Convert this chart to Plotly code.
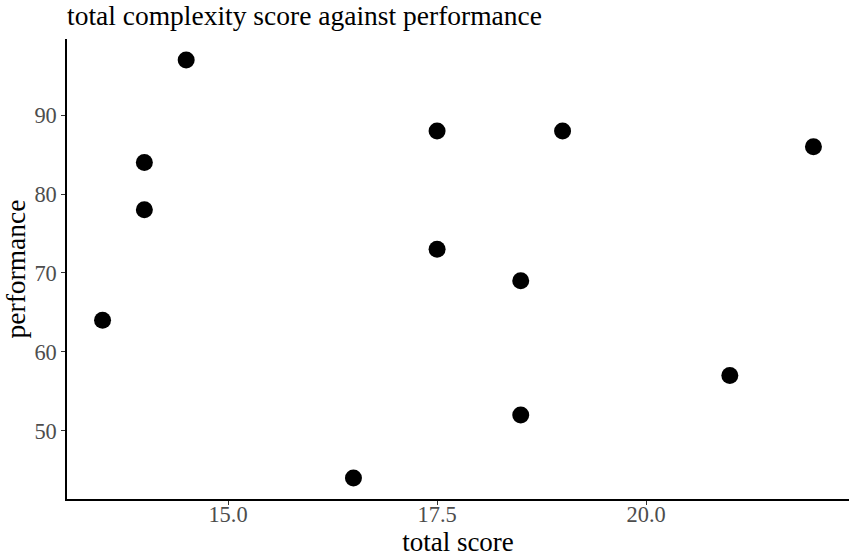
import plotly.graph_objects as go

total_score = [13.5, 14.0, 14.0, 14.5, 16.5, 17.5, 17.5, 18.5, 18.5, 19.0, 21.0, 22.0]
performance = [64, 84, 78, 97, 44, 88, 73, 69, 52, 88, 57, 86]

x_ticks = [15.0, 17.5, 20.0]
x_tick_labels = ["15.0", "17.5", "20.0"]
y_ticks = [50, 60, 70, 80, 90]
y_tick_labels = ["50", "60", "70", "80", "90"]

font_family = "Liberation Serif, Times New Roman, serif"
x_range = [13.075, 22.425]

fig = go.Figure(go.Scatter(
    x=total_score, y=performance, mode="markers",
    marker=dict(color="black", size=17, line=dict(width=0)),
    showlegend=False,
))
# invisible companion trace for the label axis
fig.add_trace(go.Scatter(x=[], y=[], xaxis="x2", yaxis="y", showlegend=False, hoverinfo="skip"))

fig.update_layout(
    template="none",
    width=849, height=557,
    margin=dict(l=67, r=0, t=39, b=58, autoexpand=False),
    paper_bgcolor="white", plot_bgcolor="white",
    font=dict(family=font_family, color="black"),
    title=dict(text="total complexity score against performance",
               x=0, xref="paper", xanchor="left",
               y=0.99, yref="container", yanchor="top", pad=dict(t=0, l=0),
               font=dict(size=27.5, family=font_family, color="black")),
    xaxis=dict(range=x_range, showgrid=False, zeroline=False,
               automargin=False,
               showline=True, linecolor="black", linewidth=1.5,
               ticks="outside", ticklen=4, tickcolor="#333333", tickwidth=1.2,
               tickvals=x_ticks, showticklabels=False),
    xaxis2=dict(range=x_range, overlaying="x", anchor="y", side="bottom",
                matches="x",
                showgrid=False, zeroline=False, automargin=False,
                showline=False, ticks="", ticklen=0,
                tickvals=x_ticks, ticktext=x_tick_labels,
                tickfont=dict(size=22.4, color="#4d4d4d", family=font_family),
                title=dict(text="total score", standoff=3,
                           font=dict(size=27, color="black", family=font_family))),
    yaxis=dict(range=[41.35, 99.65], showgrid=False, zeroline=False,
               automargin=False,
               showline=True, linecolor="black", linewidth=1.5,
               ticks="outside", ticklen=4, tickcolor="#333333", tickwidth=1.2,
               tickvals=y_ticks, ticktext=y_tick_labels,
               tickfont=dict(size=22.4, color="#4d4d4d", family=font_family),
               title=dict(text="performance", standoff=4,
                          font=dict(size=27.5, color="black", family=font_family))),
)

fig.write_html("out.html", post_script="document.body.style.margin='0';",
               config={"displayModeBar": False})
